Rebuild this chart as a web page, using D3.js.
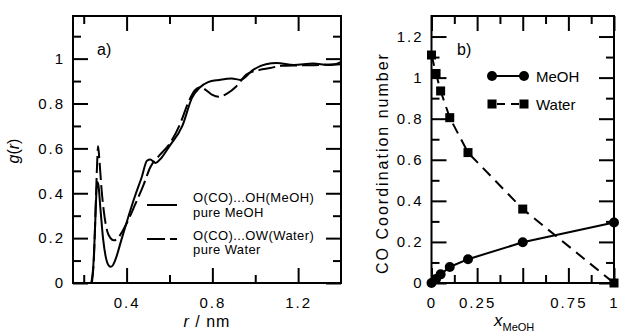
<!DOCTYPE html>
<html>
<head>
<meta charset="utf-8">
<script src="https://cdn.jsdelivr.net/npm/d3@7.9.0/dist/d3.min.js"></script>
<style>
  body { margin: 0; background: #fff; }
  svg { display: block; font-family: "Liberation Sans", Arial, Helvetica, sans-serif; }
</style>
</head>
<body>
<svg id="chart" width="619" height="331"></svg>
<script>
// panel a) radial distribution functions
const rMeOH = [0.235, 0.245, 0.253, 0.258, 0.263, 0.268, 0.278, 0.29, 0.302, 0.315, 0.325, 0.335, 0.35, 0.375, 0.4, 0.44, 0.47, 0.495, 0.51, 0.535, 0.56, 0.6, 0.66, 0.705, 0.74, 0.78, 0.83, 0.89, 0.93, 0.99, 1.05, 1.1, 1.18, 1.27, 1.34, 1.4];
const gMeOH = [0, 0.08, 0.25, 0.38, 0.45, 0.44, 0.33, 0.2, 0.12, 0.08, 0.072, 0.078, 0.11, 0.19, 0.27, 0.39, 0.47, 0.545, 0.55, 0.535, 0.555, 0.61, 0.7, 0.825, 0.87, 0.895, 0.905, 0.912, 0.905, 0.95, 0.975, 0.98, 0.972, 0.978, 0.972, 0.975];
const rWater = [0.238, 0.248, 0.256, 0.262, 0.267, 0.273, 0.283, 0.295, 0.31, 0.325, 0.34, 0.36, 0.38, 0.4, 0.44, 0.48, 0.51, 0.55, 0.6, 0.65, 0.69, 0.72, 0.745, 0.77, 0.8, 0.83, 0.87, 0.91, 0.96, 1.02, 1.07, 1.12, 1.2, 1.3, 1.37, 1.4];
const gWater = [0, 0.12, 0.35, 0.52, 0.61, 0.55, 0.42, 0.31, 0.23, 0.2, 0.19, 0.2, 0.23, 0.265, 0.35, 0.44, 0.515, 0.565, 0.62, 0.71, 0.81, 0.86, 0.873, 0.86, 0.838, 0.83, 0.845, 0.875, 0.93, 0.95, 0.958, 0.968, 0.97, 0.972, 0.975, 0.985];

// panel b) coordination numbers
const xMeOH = [0, 0.025, 0.05, 0.1, 0.2, 0.5, 1];
const cnMeOH = [0, 0.02, 0.042, 0.078, 0.116, 0.198, 0.295];
const cnWater = [1.11, 1.02, 0.935, 0.805, 0.635, 0.36, 0];

const xTicksA = [0.4, 0.8, 1.2];
const xMinorA = [0.2, 0.6, 1.0];
const yTicksA = [0, 0.2, 0.4, 0.6, 0.8, 1];
const yMinorA = [0.1, 0.3, 0.5, 0.7, 0.9, 1.1];
const xTicksB = [0, 0.25, 0.5, 0.75, 1];
const xMinorB = [0.125, 0.375, 0.625, 0.875];
const yTicksB = [0, 0.2, 0.4, 0.6, 0.8, 1, 1.2];
const yMinorB = [0.1, 0.3, 0.5, 0.7, 0.9, 1.1];

const svg = d3.select('#chart');
const FONT = 15;
const MAJOR = 15, MINOR = 8;

const xA = d3.scaleLinear().domain([0.15, 1.4]).range([73, 341]);
const yA = d3.scaleLinear().domain([0, 1.19]).range([283, 16]);
const xB = d3.scaleLinear().domain([0, 1]).range([431.5, 614]);
const yB = d3.scaleLinear().domain([0, 1.3]).range([283, 16]);

const fmt = d3.format('~g');

// one side of ticks, pointing into the frame
function side(axisFn, scale, values, size, labels, pad, skip) {
  const g = svg.append('g');
  const ax = axisFn(scale).tickValues(values).tickSize(-size).tickPadding(pad || 0)
    .tickFormat(labels ? (d => (skip && skip.includes(d)) ? '' : fmt(d)) : '');
  g.call(ax);
  g.select('.domain').remove();
  g.selectAll('line').attr('stroke', '#000').attr('stroke-width', 2);
  g.selectAll('text')
    .attr('fill', '#000')
    .style('font-size', FONT + 'px')
    .style('font-family', '"Liberation Sans", Arial, sans-serif')
    .attr('letter-spacing', '2px');
  return g;
}

function frame(x, y) {
  const [l, r] = x.range(), [b, t] = y.range();
  svg.append('rect')
    .attr('x', l).attr('y', t).attr('width', r - l).attr('height', b - t)
    .attr('fill', 'none').attr('stroke', '#000').attr('stroke-width', 2);
}

function allTicks(x, y, xMaj, xMin, yMaj, yMin, xSkip) {
  const [l, r] = x.range(), [b, t] = y.range();
  side(d3.axisBottom, x, xMaj, MAJOR, true, 14, xSkip).attr('transform', `translate(0,${b})`);
  side(d3.axisBottom, x, xMin, MINOR, false).attr('transform', `translate(0,${b})`);
  side(d3.axisTop, x, xMaj, MAJOR, false).attr('transform', `translate(0,${t})`);
  side(d3.axisTop, x, xMin, MINOR, false).attr('transform', `translate(0,${t})`);
  side(d3.axisLeft, y, yMaj, MAJOR, true, 8).attr('transform', `translate(${l},0)`);
  side(d3.axisLeft, y, yMin, MINOR, false).attr('transform', `translate(${l},0)`);
  side(d3.axisRight, y, yMaj, MAJOR, false).attr('transform', `translate(${r},0)`);
  side(d3.axisRight, y, yMin, MINOR, false).attr('transform', `translate(${r},0)`);
}

// ---------- panel a ----------
allTicks(xA, yA, xTicksA, xMinorA, yTicksA, yMinorA);
frame(xA, yA);

const lineA = d3.line().x(d => xA(d[0])).y(d => yA(d[1])).curve(d3.curveMonotoneX);

svg.append('path')
  .datum(d3.zip(rMeOH, gMeOH))
  .attr('d', lineA)
  .attr('fill', 'none').attr('stroke', '#000').attr('stroke-width', 2);

svg.append('path')
  .datum(d3.zip(rWater, gWater))
  .attr('d', lineA)
  .attr('fill', 'none').attr('stroke', '#000').attr('stroke-width', 2)
  .attr('stroke-dasharray', '17,5');

svg.append('text').attr('x', 97).attr('y', 55).style('font-size', '16px').text('a)');

// legend a
const legA = [
  { dash: null, y: 205, lines: ['O(CO)...OH(MeOH)', 'pure MeOH'], base: 202 },
  { dash: '18,5', y: 239, lines: ['O(CO)...OW(Water)', 'pure Water'], base: 239.5 }
];
legA.forEach(it => {
  svg.append('line')
    .attr('x1', 147).attr('x2', 177).attr('y1', it.y).attr('y2', it.y)
    .attr('stroke', '#000').attr('stroke-width', 2)
    .attr('stroke-dasharray', it.dash);
  it.lines.forEach((s, i) => {
    svg.append('text').attr('x', 193).attr('y', it.base + i * 14.5)
      .style('font-size', '13px').attr('letter-spacing', '0.4px').text(s);
  });
});

// axis titles a
const gt = svg.append('text')
  .attr('transform', 'translate(19,151) rotate(-90)')
  .attr('text-anchor', 'middle').style('font-size', '16px');
gt.append('tspan').style('font-style', 'italic').text('g');
gt.append('tspan').text('(');
gt.append('tspan').style('font-style', 'italic').text('r');
gt.append('tspan').text(')');

const rt = svg.append('text').attr('x', 207).attr('y', 327)
  .attr('text-anchor', 'middle').style('font-size', '16px').attr('letter-spacing', '1px');
rt.append('tspan').style('font-style', 'italic').text('r');
rt.append('tspan').text(' / nm');

// ---------- panel b ----------
allTicks(xB, yB, xTicksB, xMinorB, yTicksB, yMinorB, [0.5]);
frame(xB, yB);

const lineB = d3.line().x(d => xB(d[0])).y(d => yB(d[1]));

svg.append('path')
  .datum(d3.zip(xMeOH, cnWater))
  .attr('d', lineB)
  .attr('fill', 'none').attr('stroke', '#000').attr('stroke-width', 2)
  .attr('stroke-dasharray', '11,7');

svg.append('path')
  .datum(d3.zip(xMeOH, cnMeOH))
  .attr('d', lineB)
  .attr('fill', 'none').attr('stroke', '#000').attr('stroke-width', 2);

svg.append('g').selectAll('rect')
  .data(d3.zip(xMeOH, cnWater))
  .join('rect')
  .attr('x', d => xB(d[0]) - 4.5).attr('y', d => yB(d[1]) - 4.5)
  .attr('width', 9).attr('height', 9).attr('fill', '#000');

svg.append('g').selectAll('circle')
  .data(d3.zip(xMeOH, cnMeOH))
  .join('circle')
  .attr('cx', d => xB(d[0])).attr('cy', d => yB(d[1]))
  .attr('r', 5).attr('fill', '#000');

svg.append('text').attr('x', 457).attr('y', 55).style('font-size', '16px').text('b)');

// legend b
svg.append('line').attr('x1', 492).attr('x2', 524).attr('y1', 76).attr('y2', 76)
  .attr('stroke', '#000').attr('stroke-width', 2);
[492, 524].forEach(cx => svg.append('circle').attr('cx', cx).attr('cy', 76).attr('r', 5));
svg.append('text').attr('x', 536).attr('y', 81.5).style('font-size', '15px').text('MeOH');

svg.append('line').attr('x1', 492).attr('x2', 524).attr('y1', 104).attr('y2', 104)
  .attr('stroke', '#000').attr('stroke-width', 2).attr('stroke-dasharray', '8,6')
  .attr('stroke-dashoffset', -5);
[492, 524].forEach(cx => svg.append('rect').attr('x', cx - 4.5).attr('y', 99.5).attr('width', 9).attr('height', 9));
svg.append('text').attr('x', 536).attr('y', 110).style('font-size', '15px').text('Water');

// axis titles b
svg.append('text')
  .attr('transform', 'translate(388,163) rotate(-90)')
  .attr('text-anchor', 'middle').style('font-size', '16px').attr('letter-spacing', '2px')
  .text('CO Coordination number');

const xt = svg.append('text').attr('x', 494).attr('y', 326).style('font-size', '17px');
xt.append('tspan').style('font-style', 'italic').text('x');
xt.append('tspan').attr('dy', 4.5).style('font-size', '11px').text('MeOH');
</script>
</body>
</html>
